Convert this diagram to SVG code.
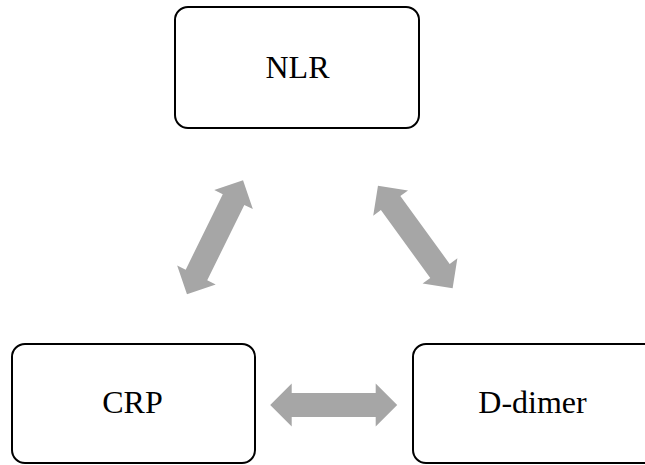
<svg xmlns="http://www.w3.org/2000/svg" width="645" height="465" viewBox="0 0 645 465">
<style>
.box{fill:#fff;stroke:#000;stroke-width:2}
.lbl{font-family:"Liberation Serif","Times New Roman",serif;font-size:32px;fill:#000;text-anchor:middle}
.arr{fill:#a6a6a6}
</style>
<defs>
<path id="dbl" d="M -63.5 0 L -42 -21.5 L -42 -12 L 42 -12 L 42 -21.5 L 63.5 0 L 42 21.5 L 42 12 L -42 12 L -42 21.5 Z"/>
</defs>
<rect width="645" height="465" fill="#fff"/>
<g id="connectors">
<use href="#dbl" class="arr" transform="translate(215,237.3) rotate(-63.8)"/>
<use href="#dbl" class="arr" transform="translate(415.3,237) rotate(54)"/>
<use href="#dbl" class="arr" transform="translate(333.7,405)"/>
</g>
<g id="nlr">
<rect class="box" x="175" y="7" width="244" height="121" rx="13"/>
<text class="lbl" x="297.5" y="78">NLR</text>
</g>
<g id="crp">
<rect class="box" x="12" y="344" width="243" height="119" rx="13"/>
<text class="lbl" x="132.5" y="413">CRP</text>
</g>
<g id="ddimer">
<rect class="box" x="413" y="344" width="244" height="119" rx="13"/>
<text class="lbl" x="532.5" y="413">D-dimer</text>
</g>
</svg>
